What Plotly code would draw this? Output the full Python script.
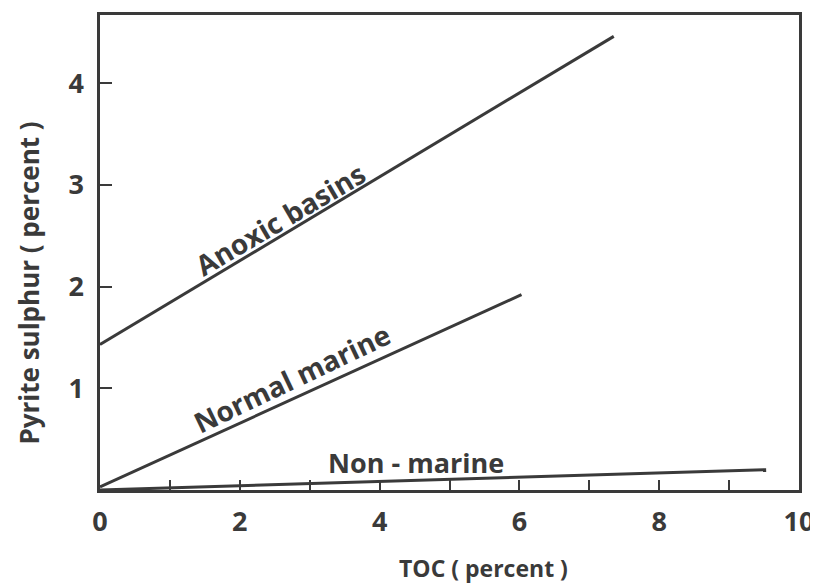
import plotly.graph_objects as go

# Data
toc_anoxic = [0.0, 7.35]
sulphur_anoxic = [1.43, 4.46]
toc_normal = [0.0, 6.03]
sulphur_normal = [0.03, 1.92]
toc_nonmarine = [0.0, 9.53]
sulphur_nonmarine = [0.0, 0.20]

x_major_ticks = [0, 2, 4, 6, 8, 10]
x_minor_ticks = [1, 3, 5, 7, 9]
y_ticks = [1, 2, 3, 4]

labels = ["Anoxic basins", "Normal marine", "Non - marine"]

INK = "#3a3a3a"
FONT = "Open Sans"

fig = go.Figure()
for xs, ys, name in [(toc_anoxic, sulphur_anoxic, labels[0]),
                     (toc_normal, sulphur_normal, labels[1]),
                     (toc_nonmarine, sulphur_nonmarine, labels[2])]:
    fig.add_trace(go.Scatter(x=xs, y=ys, mode="lines", name=name,
                             line=dict(color=INK, width=3), showlegend=False))

label_font = dict(family=FONT, size=28, color=INK, weight="bold")
fig.add_annotation(x=2.58, y=2.66, text=labels[0], textangle=-30.5,
                   showarrow=False, font=label_font)
fig.add_annotation(x=2.75, y=1.10, text=labels[1], textangle=-25.5,
                   showarrow=False, font=label_font)
fig.add_annotation(x=4.52, y=0.27, text=labels[2], textangle=0,
                   showarrow=False, font=dict(family=FONT, size=27, color=INK, weight="bold"))

# Axis titles
fig.add_annotation(xref="paper", yref="paper", x=0.548, y=-0.165,
                   xanchor="center", yanchor="middle",
                   text="TOC ( percent )", showarrow=False,
                   font=dict(family=FONT, size=23, color=INK, weight="bold"))
fig.add_annotation(xref="paper", yref="paper", x=-0.102, y=0.436,
                   xanchor="center", yanchor="middle",
                   text="Pyrite sulphur ( percent )", textangle=-90,
                   showarrow=False, borderpad=0,
                   font=dict(family=FONT, size=26, color=INK, weight="bold"))

fig.update_xaxes(range=[0, 10], showline=True, linecolor=INK, linewidth=2.5,
                 mirror=True, showgrid=False, zeroline=False,
                 tickvals=x_major_ticks, ticks="inside", ticklen=10,
                 tickwidth=2, tickcolor=INK, ticklabelstandoff=6,
                 ticklabeloverflow="allow",
                 tickfont=dict(family=FONT, size=27, color=INK, weight="bold"),
                 minor=dict(tickvals=x_minor_ticks, ticks="inside", ticklen=10,
                            tickwidth=2, tickcolor=INK))
fig.update_yaxes(range=[0, 4.67], showline=True, linecolor=INK, linewidth=2.5,
                 mirror=True, showgrid=False, zeroline=False,
                 tickvals=y_ticks, ticks="inside", ticklen=12,
                 tickwidth=2, tickcolor=INK, ticklabelstandoff=8,
                 tickfont=dict(family=FONT, size=27, color=INK, weight="bold"))

# page body adds ~8px offset; size/margins compensate so the plot area matches
fig.update_layout(width=810, height=576,
                  margin=dict(l=92, r=12, t=4, b=94),
                  paper_bgcolor="white", plot_bgcolor="white")

fig.write_html("out.html")
